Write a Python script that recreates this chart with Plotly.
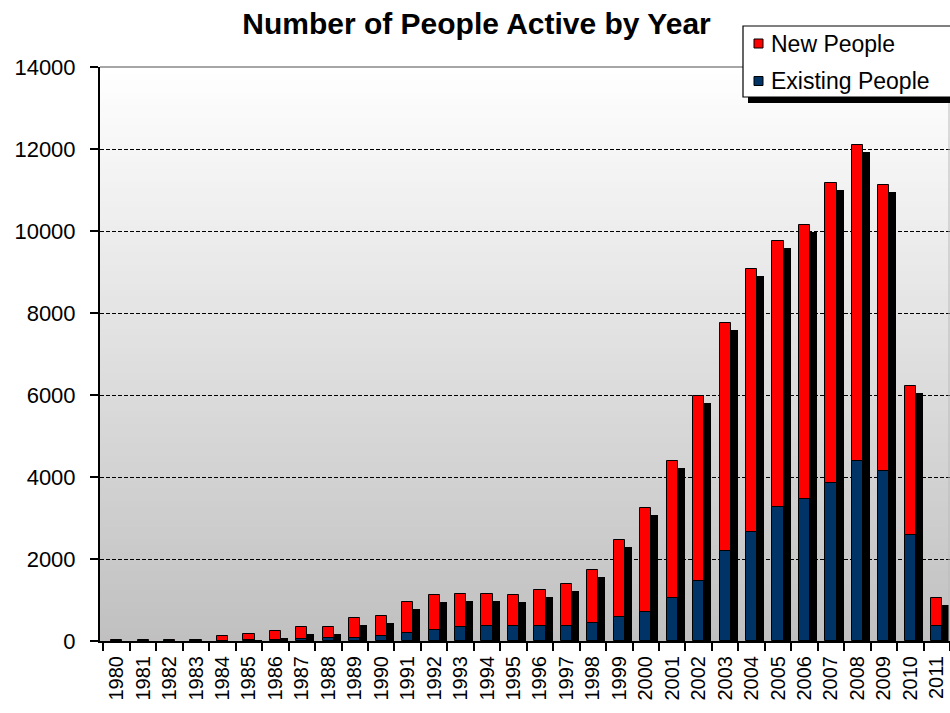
import plotly.graph_objects as go

years = [str(y) for y in range(1980, 2012)]
existing_people = [5, 5, 5, 5, 10, 20, 30, 50, 75, 75, 120, 187, 270, 335, 375, 375,
                   375, 375, 430, 575, 715, 1050, 1460, 2185, 2665, 3265, 3460, 3845,
                   4380, 4135, 2585, 373]
new_people = [15, 15, 15, 15, 120, 160, 215, 280, 255, 495, 495, 773, 845, 820, 780, 740,
              870, 1025, 1310, 1895, 2530, 3330, 4520, 5565, 6400, 6485, 6680, 7325,
              7715, 6975, 3640, 682]
y_ticks = [0, 2000, 4000, 6000, 8000, 10000, 12000, 14000]

W, H = 950, 713
ML, MR, MT, MB = 100, 0, 67, 72
PW, PH = W - ML - MR, H - MT - MB

def px_x(px):
    return (px - ML) / PW

def px_y(py):
    return (H - MB - py) / PH

FONT = "Arial, Liberation Sans, sans-serif"
BAR_W = 0.42
SHADOW_DX = 0.265          # category units (~7 px)
SHADOW_DY = 7 * 14000 / PH  # value units (~7 px)

totals = [e + n for e, n in zip(existing_people, new_people)]
shadow = [max(t - SHADOW_DY, 0) for t in totals]

fig = go.Figure()

fig.add_trace(go.Bar(
    x=years, y=shadow, width=BAR_W, offset=-BAR_W / 2 + SHADOW_DX,
    marker=dict(color="black", line=dict(width=0)), showlegend=False, hoverinfo="skip"))
fig.add_trace(go.Bar(
    x=years, y=existing_people, width=BAR_W, offset=-BAR_W / 2, name="Existing People",
    marker=dict(color="#003366", line=dict(color="black", width=1))))
fig.add_trace(go.Bar(
    x=years, y=new_people, base=existing_people, width=BAR_W, offset=-BAR_W / 2,
    name="New People", marker=dict(color="#ff0000", line=dict(color="black", width=1))))

shapes = []
# gradient background (white at top to silver at bottom)
N = 90
for i in range(N):
    f0, f1 = i / N, (i + 1) / N
    g = int(round(192 + (255 - 192) * (f0 + f1) / 2))
    shapes.append(dict(type="rect", xref="paper", yref="paper", x0=0, x1=1, y0=f0, y1=f1 + 0.002,
                       fillcolor=f"rgb({g},{g},{g})", line=dict(width=0), layer="below"))
# plot-area border (top and right)
shapes.append(dict(type="line", xref="paper", yref="paper", x0=0, x1=1, y0=1, y1=1,
                   line=dict(color="#888888", width=1.5), layer="above"))
shapes.append(dict(type="line", xref="paper", yref="paper", x0=px_x(949), x1=px_x(949), y0=0, y1=1,
                   line=dict(color="#bbbbbb", width=1), layer="above"))
# legend box with shadow
shapes.append(dict(type="rect", xref="paper", yref="paper", x0=px_x(748), x1=px_x(960),
                   y0=px_y(103), y1=px_y(31), fillcolor="black", line=dict(width=0), layer="above"))
shapes.append(dict(type="rect", xref="paper", yref="paper", x0=px_x(743), x1=px_x(960),
                   y0=px_y(97), y1=px_y(26), fillcolor="white", line=dict(color="black", width=1.2),
                   layer="above"))
legend_items = [("New People", "#ff0000", 43.5), ("Existing People", "#003366", 81)]
annotations = []
for label, col, cy in legend_items:
    shapes.append(dict(type="rect", xref="paper", yref="paper", x0=px_x(754), x1=px_x(763),
                       y0=px_y(cy + 4.5), y1=px_y(cy - 4.5), fillcolor=col,
                       line=dict(color="black", width=1), layer="above"))
    annotations.append(dict(xref="paper", yref="paper", x=px_x(769), y=px_y(cy), text=label,
                            showarrow=False, xanchor="left", yanchor="middle",
                            font=dict(family=FONT, size=23, color="black")))

fig.update_layout(
    width=W, height=H, autosize=False,
    margin=dict(l=ML, r=MR, t=MT, b=MB, pad=0),
    paper_bgcolor="white", plot_bgcolor="rgba(0,0,0,0)",
    barmode="overlay", bargap=0, showlegend=False,
    title=dict(text="<b>Number of People Active by Year</b>", x=476.5 / W, xanchor="center",
               y=1 - 23 / H, yanchor="middle", yref="container",
               font=dict(family=FONT, size=30, color="black")),
    shapes=shapes, annotations=annotations,
    xaxis=dict(type="category", categoryorder="array", categoryarray=years,
               range=[-0.63, 31.5], showgrid=False, zeroline=False,
               showline=True, linecolor="black", linewidth=2,
               ticks="outside", tickson="boundaries", ticklen=8, tickcolor="black", tickwidth=1.5,
               ticklabelstandoff=5,
               tickangle=-90, tickfont=dict(family=FONT, size=20, color="black")),
    yaxis=dict(range=[0, 14000], tickvals=y_ticks, ticktext=[str(v) for v in y_ticks],
               showgrid=True, gridcolor="black", gridwidth=1, griddash="4px,2px",
               zeroline=False, showline=True, linecolor="black", linewidth=2,
               ticks="outside", ticklen=8, tickcolor="black", tickwidth=1.5,
               ticklabelstandoff=10,
               tickfont=dict(family=FONT, size=22, color="black")),
)

fig.write_html("out.html")
